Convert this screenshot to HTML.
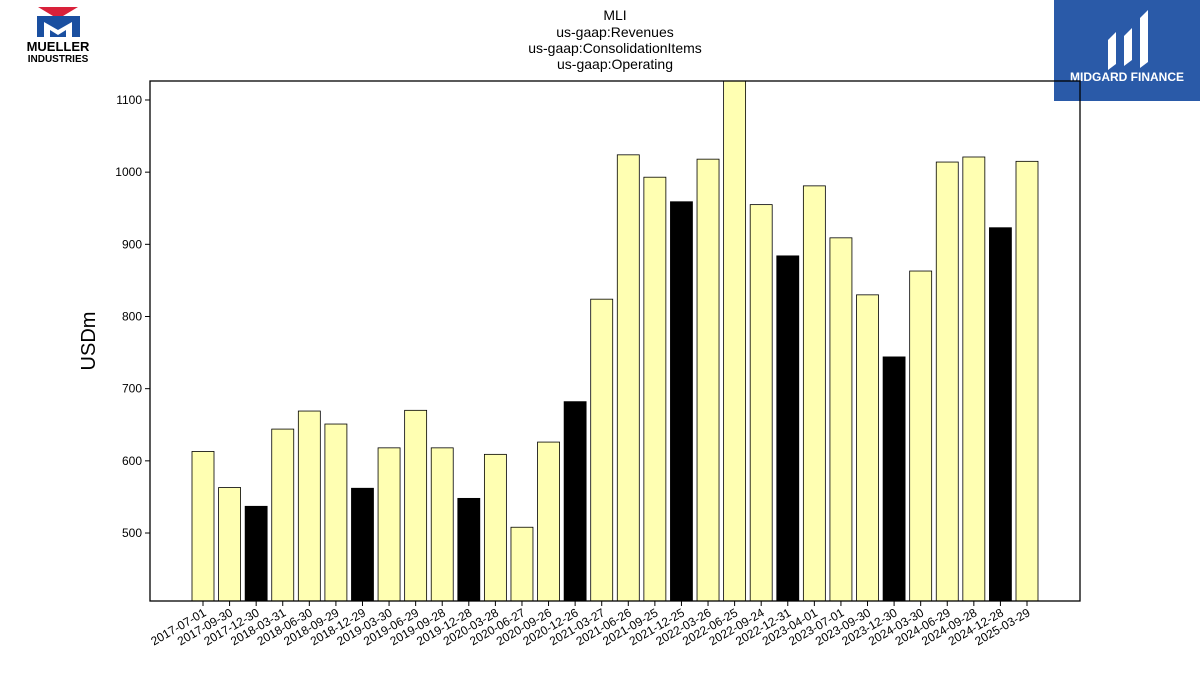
<!DOCTYPE html>
<html><head><meta charset="utf-8"><style>
body{margin:0;background:#fff;font-family:"Liberation Sans","DejaVu Sans",sans-serif}
#wrap{position:relative;width:1200px;height:675px;overflow:hidden}
</style></head><body>
<div id="wrap">
<svg id="chart" width="1200" height="675">
<text x="615" y="20" text-anchor="middle" font-size="14">MLI</text>
<text x="615" y="37" text-anchor="middle" font-size="14">us-gaap:Revenues</text>
<text x="615" y="53" text-anchor="middle" font-size="14">us-gaap:ConsolidationItems</text>
<text x="615" y="69" text-anchor="middle" font-size="14">us-gaap:Operating</text>
<g>
<polygon points="38,7 78,7 58,19" fill="#d9213a"/>
<rect x="37" y="16" width="43" height="21" fill="#1a4fa0"/>
<polygon points="44,37 44,22 58,30 72,22 72,37 66,37 66,30 58,35 50,30 50,37" fill="#fff"/>
<text x="58" y="51" text-anchor="middle" font-size="13" font-weight="bold">MUELLER</text>
<text x="58" y="62" text-anchor="middle" font-size="10" font-weight="bold">INDUSTRIES</text>
</g>
<g>
<rect x="1054" y="0" width="146" height="101" fill="#2a5aa8"/>
<path d="M1108,70 L1108,40 L1116,32 L1116,64 Z M1124,66 L1124,36 L1132,28 L1132,60 Z M1140,68 L1140,18 L1148,10 L1148,62 Z" fill="#fff"/>
<text x="1127" y="81" text-anchor="middle" font-size="12" font-weight="bold" fill="#fff">MIDGARD FINANCE</text>
</g>
<text transform="translate(95,341) rotate(-90)" text-anchor="middle" font-size="20">USDm</text>
<g id="plot"></g>
<rect x="150" y="81" width="930" height="520" fill="none" stroke="#000" stroke-width="1.3"/>
</svg>
</div>
<script>
const categories=["2017-07-01","2017-09-30","2017-12-30","2018-03-31","2018-06-30","2018-09-29","2018-12-29","2019-03-30","2019-06-29","2019-09-28","2019-12-28","2020-03-28","2020-06-27","2020-09-26","2020-12-26","2021-03-27","2021-06-26","2021-09-25","2021-12-25","2022-03-26","2022-06-25","2022-09-24","2022-12-31","2023-04-01","2023-07-01","2023-09-30","2023-12-30","2024-03-30","2024-06-29","2024-09-28","2024-12-28","2025-03-29"];
const values=[613,563,537,644,669,651,562,618,670,618,548,609,508,626,682,824,1024,993,959,1018,1130,955,884,981,909,830,744,863,1014,1021,923,1015];
const highlighted=[false,false,true,false,false,false,true,false,false,false,true,false,false,false,true,false,false,false,true,false,false,false,true,false,false,false,true,false,false,false,true,false];
const yTicks=[500,600,700,800,900,1000,1100];
const NS="http://www.w3.org/2000/svg";
const L=150,R=1080,T=81,B=601,yMin=405.8,yMax=1126.3;
const y=v=>B-(v-yMin)/(yMax-yMin)*(B-T);
const first=203,last=1027;
const x=i=>first+i*(last-first)/(categories.length-1);
const g=document.getElementById('plot');
const clip=document.createElementNS(NS,'clipPath');clip.setAttribute('id','cp');
const cr=document.createElementNS(NS,'rect');cr.setAttribute('x',L);cr.setAttribute('y',T);cr.setAttribute('width',R-L);cr.setAttribute('height',B-T);clip.appendChild(cr);g.appendChild(clip);
const bars=document.createElementNS(NS,'g');bars.setAttribute('clip-path','url(#cp)');g.appendChild(bars);
values.forEach((v,i)=>{
 const r=document.createElementNS(NS,'rect');
 
 
 r.setAttribute('x',x(i)-11);r.setAttribute('width',22);
 r.setAttribute('y',y(v));r.setAttribute('height',B-y(v));
 r.setAttribute('fill',highlighted[i]?'#000':'#ffffb2');r.setAttribute('stroke','#000');r.setAttribute('stroke-width','0.8');
 bars.appendChild(r);
 const t=document.createElementNS(NS,'line');
 
 
 t.setAttribute('x1',x(i));t.setAttribute('x2',x(i));t.setAttribute('y1',B);t.setAttribute('y2',B+5);t.setAttribute('stroke','#000');
 g.appendChild(t);
 const lb=document.createElementNS(NS,'text');
 
 
 lb.setAttribute('transform','translate('+(x(i)+4)+','+(B+14)+') rotate(-30)');
 lb.setAttribute('text-anchor','end');lb.setAttribute('font-size','12');lb.textContent=categories[i];
 g.appendChild(lb);
});
yTicks.forEach(v=>{
 const t=document.createElementNS(NS,'line');
 
 
 t.setAttribute('x1',L-5);t.setAttribute('x2',L);t.setAttribute('y1',y(v));t.setAttribute('y2',y(v));t.setAttribute('stroke','#000');
 g.appendChild(t);
 const lb=document.createElementNS(NS,'text');
 
 
 lb.setAttribute('x',L-8);lb.setAttribute('y',y(v)+4);lb.setAttribute('text-anchor','end');lb.setAttribute('font-size','12');lb.textContent=v;
 g.appendChild(lb);
});
</script>
</body></html>
